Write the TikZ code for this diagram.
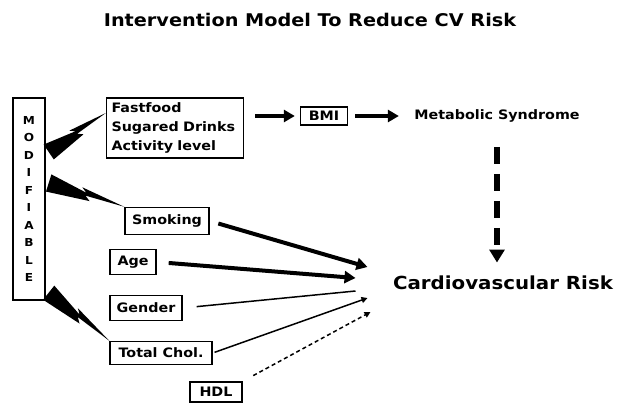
\documentclass[tikz,border=0pt]{standalone}
\usepackage{fontspec}
\setmainfont{DejaVu Sans}[FakeStretch=1.1]
\usetikzlibrary{arrows.meta, calc}

\tikzset{
    factor/.style={draw, line width=1.4pt, inner sep=0pt, font=\bfseries\fontsize{13}{19}\selectfont},
    fat/.style={line width=4pt, -{Triangle[width=12pt, length=11pt]}},
    weak/.style={line width=1.5pt},
}

\newcommand{\zapbolt}[2]{%
    \coordinate (z0) at (#1);
    \coordinate (z1) at (#2);
    \coordinate (za) at ($(z0)!0.56!(z1)$);
    \coordinate (zb) at ($(z0)!0.49!(z1)$);
    \coordinate (zc) at ($(z0)!0.42!(z1)$);
    \fill ($(z0)!-9pt!90:(z1)$) -- ($(za)!-5pt!90:(z1)$) -- ($(zb)!-1pt!90:(z1)$)
        -- (z1) -- ($(zc)!6pt!90:(z1)$) -- ($(zb)!2pt!90:(z1)$) -- ($(z0)!9pt!90:(z1)$) -- cycle;
}

\begin{document}
\begin{tikzpicture}[x=1pt, y=-1pt]
    \useasboundingbox (0,0) rectangle (618,404);
    \node[font=\bfseries\fontsize{17.5}{19}\selectfont] (title) at (310,20) {Intervention Model To Reduce CV Risk};

    \node[factor, minimum width=32pt, minimum height=202pt, font=\bfseries\fontsize{11}{17.5}\selectfont, align=center] (mod) at (29,199) {M\\O\\D\\I\\F\\I\\A\\B\\L\\E};
    \node[factor, minimum width=137pt, minimum height=60pt, text width=127pt, align=left] (fast) at (175,128) {Fastfood\\Sugared Drinks\\Activity level};
    \node[factor, minimum width=47pt, minimum height=18pt] (bmi) at (324,116) {BMI};
    \node[font=\bfseries\fontsize{13}{14}\selectfont] (met) at (497,116) {Metabolic Syndrome};
    \node[font=\bfseries\fontsize{18}{19}\selectfont] (cv) at (503,283) {Cardiovascular Risk};
    \node[factor, minimum width=84pt, minimum height=27pt] (smk) at (167,221) {Smoking};
    \node[factor, minimum width=46pt, minimum height=25pt] (age) at (133,262) {Age};
    \node[factor, minimum width=72pt, minimum height=25pt] (gen) at (146,308) {Gender};
    \node[factor, minimum width=102pt, minimum height=23pt] (chol) at (161,353) {Total Chol.};
    \node[factor, minimum width=52pt, minimum height=20pt] (hdl) at (216,392) {HDL};

    \coordinate (cv-smk) at ($(cv.west)+(-22,-16)$);
    \coordinate (cv-age) at ($(cv.west)+(-34,-5)$);
    \coordinate (cv-gen) at ($(cv.west)+(-34,8)$);
    \coordinate (cv-chol) at ($(cv.west)+(-22,15)$);
    \coordinate (cv-hdl) at ($(cv.west)+(-19,29)$);

    \zapbolt{$(mod.east)+(3,-47)$}{$(fast.west)+(0,-15)$}
    \zapbolt{$(mod.east)+(3,-16)$}{smk.north west}
    \zapbolt{$(mod.south east)+(3,-8)$}{chol.north west}

    \draw[fat, shorten <=11pt, shorten >=5pt] (fast.east |- bmi) -- (bmi);
    \draw[fat, shorten <=7pt, shorten >=12pt] (bmi) -- (met);
    \draw[line width=6pt, dash pattern=on 17pt off 10pt, -{Triangle[width=15pt, length=13pt]}, shorten <=21pt, shorten >=10pt] (met.south) -- (met.south |- cv.north);

    \draw[fat, shorten <=9pt] (smk.east) -- (cv-smk);
    \draw[fat, shorten <=12pt] (age.east) -- (cv-age);
    \draw[weak, shorten <=14pt] (gen.east) -- (cv-gen);
    \draw[weak, -{Triangle[width=6pt, length=6pt]}, shorten <=2pt] (chol.east) -- (cv-chol);
    \draw[weak, dash pattern=on 4pt off 3pt, -{Triangle[width=6pt, length=6pt]}, shorten <=12pt] (hdl.north east) -- (cv-hdl);
\end{tikzpicture}
\end{document}
